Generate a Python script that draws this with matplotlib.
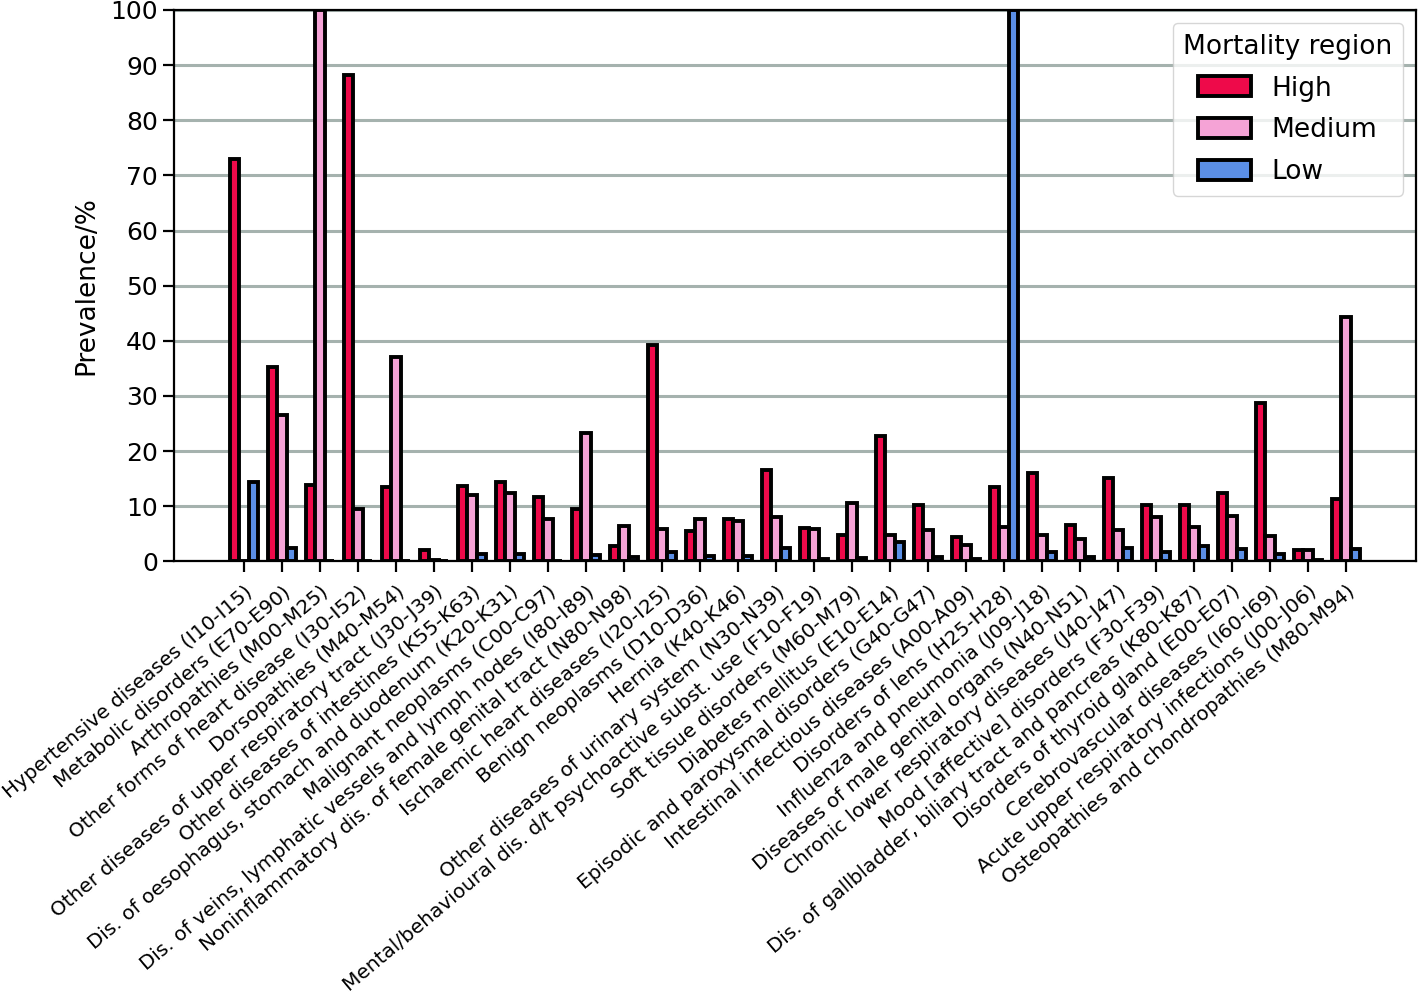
import numpy as np
import matplotlib
matplotlib.use("Agg")
import matplotlib.pyplot as plt

categories = [
    "Hypertensive diseases (I10-I15)",
    "Metabolic disorders (E70-E90)",
    "Arthropathies (M00-M25)",
    "Other forms of heart disease (I30-I52)",
    "Dorsopathies (M40-M54)",
    "Other diseases of upper respiratory tract (J30-J39)",
    "Other diseases of intestines (K55-K63)",
    "Dis. of oesophagus, stomach and duodenum (K20-K31)",
    "Malignant neoplasms (C00-C97)",
    "Dis. of veins, lymphatic vessels and lymph nodes (I80-I89)",
    "Noninflammatory dis. of female genital tract (N80-N98)",
    "Ischaemic heart diseases (I20-I25)",
    "Benign neoplasms (D10-D36)",
    "Hernia (K40-K46)",
    "Other diseases of urinary system (N30-N39)",
    "Mental/behavioural dis. d/t psychoactive subst. use (F10-F19)",
    "Soft tissue disorders (M60-M79)",
    "Diabetes mellitus (E10-E14)",
    "Episodic and paroxysmal disorders (G40-G47)",
    "Intestinal infectious diseases (A00-A09)",
    "Disorders of lens (H25-H28)",
    "Influenza and pneumonia (J09-J18)",
    "Diseases of male genital organs (N40-N51)",
    "Chronic lower respiratory diseases (J40-J47)",
    "Mood [affective] disorders (F30-F39)",
    "Dis. of gallbladder, biliary tract and pancreas (K80-K87)",
    "Disorders of thyroid gland (E00-E07)",
    "Cerebrovascular diseases (I60-I69)",
    "Acute upper respiratory infections (J00-J06)",
    "Osteopathies and chondropathies (M80-M94)",
]

high = [72.9, 35.3, 13.9, 88.2, 13.4, 2.1, 13.7, 14.4, 11.6, 9.5,
        2.7, 39.2, 5.5, 7.6, 16.5, 6.1, 4.7, 22.7, 10.3, 4.5,
        13.5, 16.1, 6.6, 15.1, 10.2, 10.2, 12.4, 28.8, 2.0, 11.3]
medium = [0.0, 26.5, 100.0, 9.5, 37.0, 0.3, 12.0, 12.3, 7.7, 23.2,
          6.4, 5.9, 7.6, 7.4, 8.1, 5.9, 10.5, 4.7, 5.7, 3.0,
          6.2, 4.7, 4.1, 5.7, 8.1, 6.2, 8.2, 4.6, 2.0, 44.4]
low = [14.3, 2.4, 0.0, 0.1, 0.0, 0.0, 1.4, 1.3, 0.0, 1.2,
       0.7, 1.7, 0.9, 0.9, 2.4, 0.5, 0.6, 3.5, 0.8, 0.4,
       100.0, 1.7, 0.8, 2.4, 1.6, 2.7, 2.3, 1.4, 0.3, 2.3]

colors = ["#ee0a4a", "#f5a3d6", "#5b8fe6"]
names = ["High", "Medium", "Low"]

fig = plt.figure(figsize=(14.19, 9.97), dpi=100)
ax = fig.add_axes([0.1226, 0.437, 0.8754, 0.553])

x = np.arange(len(categories))
w = 0.25
for i, (vals, c, n) in enumerate(zip([high, medium, low], colors, names)):
    ax.bar(x + (i - 1) * w, vals, w, color=c, edgecolor="black",
           linewidth=2.8, label=n, zorder=3)

ax.set_ylim(0, 100)
ax.set_xlim(-1.84, len(categories) - 1 + 1.84)
ax.set_yticks(np.arange(0, 101, 10))
ax.yaxis.grid(True, color="#a5b2ae", linewidth=2.2, zorder=0)
ax.set_axisbelow(True)
ax.set_xticks(x)
ax.set_xticklabels(categories, rotation=40, ha="right", rotation_mode="anchor",
                   fontsize=14.4)
ax.tick_params(axis="y", labelsize=18, length=8, width=1.6)
ax.tick_params(axis="x", length=8, width=1.6, pad=7)
for s in ax.spines.values():
    s.set_linewidth(1.6)
ax.set_ylabel("Prevalence/%", fontsize=19, labelpad=8)

leg = ax.legend(title="Mortality region", loc="upper right", fontsize=19,
                title_fontsize=19, framealpha=0.8, edgecolor="#cccccc",
                handlelength=2.0, handleheight=0.8, borderpad=0.4,
                labelspacing=0.6)

fig.savefig("out.png", dpi=100)
